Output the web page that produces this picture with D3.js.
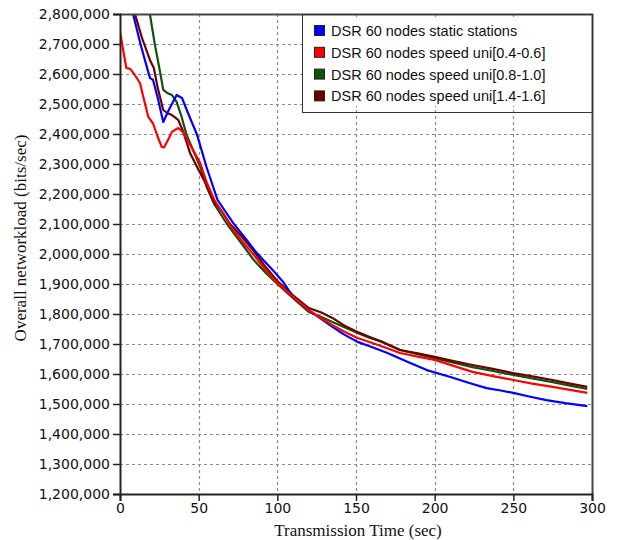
<!DOCTYPE html>
<html><head><meta charset="utf-8">
<script src="https://cdn.jsdelivr.net/npm/d3@7"></script>
<style>body{margin:0;background:#fff}svg{display:block}</style>
</head><body>
<script>
const seriesNames = ["DSR 60 nodes static stations","DSR 60 nodes speed uni[0.4-0.6]","DSR 60 nodes speed uni[0.8-1.0]","DSR 60 nodes speed uni[1.4-1.6]"];
const seriesColors = ["#0000ff","#ff0000","#0f520f","#6b0000"];
const xTicks = [0,50,100,150,200,250,300];
const yTicks = [1200000,1300000,1400000,1500000,1600000,1700000,1800000,1900000,2000000,2100000,2200000,2300000,2400000,2500000,2600000,2700000,2800000];

const blueT  = [8.3,13,19,21,24,27.5,31,36,39.4,44,49,55,62,72,80,87,97,104,110,120,128,135,142,151,160,170,183,195,210,222,233,242,250,260,271,283,297];
const blueV  = [2800000,2700000,2587000,2580000,2520000,2440000,2480000,2530000,2520000,2460000,2397000,2290000,2180000,2103000,2050000,2003000,1947000,1905000,1857000,1813000,1783000,1757000,1733000,1707000,1690000,1670000,1640000,1613000,1590000,1570000,1553000,1545000,1537000,1525000,1513000,1503000,1493000];

const redT   = [0,4,6.4,9,12.7,15,18,21,24,26.5,28,31,33,37,40,45,51,55,60,66,72,78,85,92,100,110,120,128,135,143,151,165,178,190,200,212,224,237,250,262,275,286,297];
const redV   = [2741000,2620000,2617000,2600000,2570000,2520000,2457000,2435000,2390000,2357000,2355000,2385000,2407000,2420000,2407000,2360000,2303000,2240000,2180000,2130000,2080000,2040000,1997000,1950000,1903000,1857000,1813000,1785000,1763000,1740000,1720000,1695000,1670000,1657000,1647000,1627000,1607000,1593000,1580000,1568000,1557000,1547000,1537000];

const greenT = [19,22,25,27.5,30,33,36,39,42.3,47,51,55,60,68,73,78,85,93,100,110,120,128,135,143,151,158,167,178,190,200,212,224,237,250,262,275,286,297];
const greenV = [2800000,2703000,2620000,2547000,2537000,2530000,2507000,2460000,2397000,2340000,2290000,2225000,2165000,2100000,2065000,2030000,1980000,1935000,1900000,1853000,1807000,1790000,1773000,1755000,1737000,1722000,1707000,1680000,1665000,1653000,1638000,1623000,1610000,1597000,1585000,1573000,1561000,1550000];

const maroonT = [9.5,14,19,21.5,24,27.5,30,33,37,40,44.5,50,55,59,65,70,77,85,92,100,110,120,128,135,143,151,165,178,190,200,212,224,237,250,262,275,286,297];
const maroonV = [2800000,2720000,2647000,2620000,2553000,2480000,2470000,2463000,2447000,2410000,2337000,2280000,2230000,2180000,2140000,2100000,2060000,2010000,1960000,1910000,1862000,1820000,1805000,1787000,1760000,1740000,1710000,1680000,1668000,1657000,1643000,1630000,1617000,1603000,1592000,1580000,1568000,1557000];

const series = [
  {name: seriesNames[0], color: seriesColors[0], t: blueT, v: blueV},
  {name: seriesNames[1], color: seriesColors[1], t: redT, v: redV},
  {name: seriesNames[2], color: seriesColors[2], t: greenT, v: greenV},
  {name: seriesNames[3], color: seriesColors[3], t: maroonT, v: maroonV}
];

const W = 617, H = 540;
const L = 120, R = 592, T = 14, B = 494;
const svg = d3.select("body").append("svg").attr("width", W).attr("height", H);

const x = d3.scaleLinear().domain([0,300]).range([L,R]);
const y = d3.scaleLinear().domain([1200000,2800000]).range([B,T]);

// grid
const grid = svg.append("g").attr("stroke","#8a8a8a").attr("stroke-dasharray","3,3").attr("stroke-width",1.2);
grid.selectAll(".gx").data(xTicks.slice(1,-1)).join("line")
  .attr("x1", d=>Math.round(x(d))+0.5).attr("x2", d=>Math.round(x(d))+0.5).attr("y1", T).attr("y2", B);
grid.selectAll(".gy").data(yTicks.slice(1,-1)).join("line")
  .attr("y1", d=>Math.round(y(d))+0.5).attr("y2", d=>Math.round(y(d))+0.5).attr("x1", L).attr("x2", R);

// lines
svg.append("clipPath").attr("id","clip").append("rect").attr("x",L).attr("y",T).attr("width",R-L).attr("height",B-T);
const line = d3.line().x(d=>x(d[0])).y(d=>y(d[1])).curve(d3.curveLinear);
const drawOrder = [2,3,0,1];
const lg = svg.append("g").attr("clip-path","url(#clip)");
drawOrder.forEach(i => {
  const s = series[i];
  lg.append("path").datum(s.t.map((t,k)=>[t,s.v[k]]))
    .attr("d", line).attr("fill","none").attr("stroke", s.color).attr("stroke-width",2.2)
    .attr("stroke-linejoin","round");
});

// frame top/right
svg.append("path").attr("d", `M${L},${T+0.5}H${R+0.5}V${B}`).attr("fill","none").attr("stroke","#444").attr("stroke-width",2);

// axes
const yAxis = d3.axisLeft(y).tickValues(yTicks).tickSize(7).tickPadding(3).tickFormat(d3.format(","));
const xAxis = d3.axisBottom(x).tickValues(xTicks).tickSize(7).tickPadding(2).tickFormat(d3.format("d"));
const gy = svg.append("g").attr("transform",`translate(${L},0)`).call(yAxis);
const gx = svg.append("g").attr("transform",`translate(0,${B})`).call(xAxis);
[gx, gy].forEach(g => {
  g.select(".domain").attr("stroke","#222").attr("stroke-width",2);
  g.selectAll(".tick line").attr("stroke","#222").attr("stroke-width",1.5);
  g.selectAll("text").attr("fill","#111").style("font-family","'DejaVu Sans', Verdana, sans-serif").style("font-size","14px");
});

// axis titles
svg.append("text").attr("x", 358).attr("y", 536).attr("text-anchor","middle")
  .style("font-family","'Liberation Serif', 'Times New Roman', serif").style("font-size","17px").attr("fill","#111")
  .text("Transmission Time (sec)");
svg.append("text").attr("transform","translate(26,238) rotate(-90)").attr("text-anchor","middle")
  .style("font-family","'Liberation Serif', 'Times New Roman', serif").style("font-size","17px").attr("fill","#111")
  .text("Overall networkload (bits/sec)");

// legend
const LX = 302, LY = 14, LW = R - LX, LH = 98;
svg.append("rect").attr("x", LX+1).attr("y", LY+6).attr("width", LW-2).attr("height", LH-12).attr("fill","#fff");
svg.append("rect").attr("x", LX+0.5).attr("y", LY+0.5).attr("width", LW).attr("height", LH).attr("fill","none").attr("stroke","#333").attr("stroke-width",1);
const leg = svg.append("g");
series.forEach((s,i) => {
  const cy = 31 + i*21.8;
  leg.append("rect").attr("x", 314.5).attr("y", cy-5.5).attr("width", 10).attr("height", 10)
    .attr("fill", s.color).attr("stroke","#222").attr("stroke-width",1);
  leg.append("text").attr("x", 331).attr("y", cy+5).attr("fill","#111")
    .style("font-family","'Liberation Sans', Arial, sans-serif").style("font-size","14.5px").text(s.name);
});
</script>
</body></html>
